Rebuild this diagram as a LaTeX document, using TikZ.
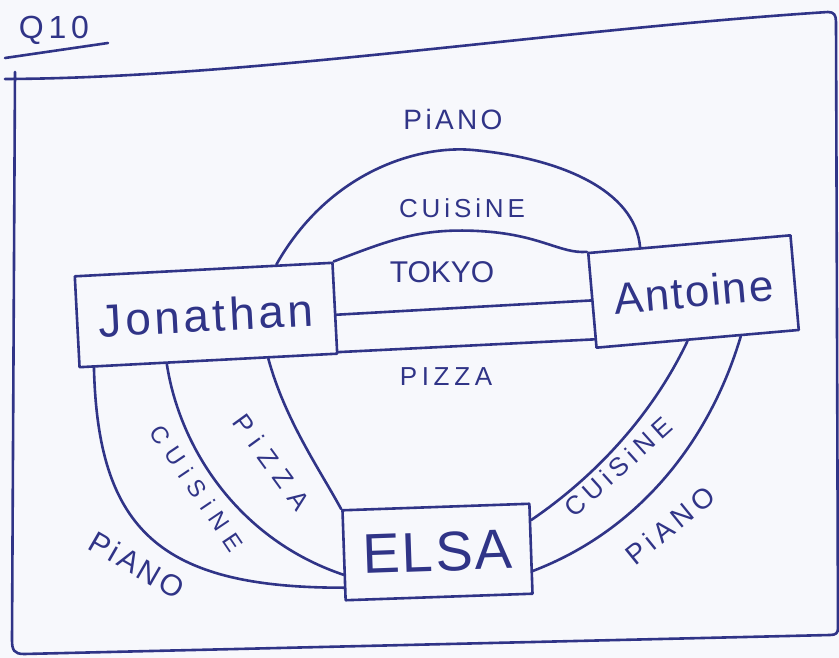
\documentclass[tikz,border=0pt]{standalone}
\usepackage{fontspec}
\setmainfont{Liberation Sans}
\usetikzlibrary{calc}
\definecolor{ink}{RGB}{48,52,135}
\definecolor{paper}{RGB}{247,248,252}
\newcommand\lsp[1]{\addfontfeature{LetterSpace=#1}}
\newcommand\fs[1]{\fontsize{#1}{#1}\selectfont}
\begin{document}
\begin{tikzpicture}[x=1pt,y=-1pt,
  pen/.style={draw=ink,line width=2.6pt,line cap=round,line join=round},
  box/.style={pen,rectangle,inner sep=0pt,text=ink},
  lab/.style={text=ink,inner sep=0pt}]
\fill[paper] (0,0) rectangle (839,658);
\useasboundingbox (0,0) rectangle (839,658);
% frame
\draw[pen] (5,79) .. controls (250,78) and (550,30) .. (828,12)
  .. controls (834,12) and (836,15) .. (836,22) -- (838,628)
  .. controls (838,633) and (836,635) .. (830,635) -- (24,654)
  .. controls (14,654) and (12,650) .. (12,640) -- (15,72);
% title
\node[lab,font=\fs{32}\lsp{15}] (q) at (54,30) {Q10};
\draw[pen] (5,58) -- (108,43);
% persons
\node[box,minimum width=258pt,minimum height=91pt,rotate=3,font=\fs{46}\lsp{8}] (jon) at (206,315) {Jonathan};
\node[box,minimum width=203pt,minimum height=95pt,rotate=5,font=\fs{44}\lsp{4}] (ant) at (693.5,291.5) {Antoine};
\node[box,minimum width=187pt,minimum height=90pt,rotate=2,font=\fs{56}\lsp{4}] (elsa) at (437.5,552) {ELSA};
% anchor points
\coordinate (j1) at ($(jon.north west)!0.78!(jon.north east)$);
\coordinate (a1) at ($(ant.north west)!0.26!(ant.north east)$);
\coordinate (j3) at ($(jon.north east)!0.57!(jon.south east)$);
\coordinate (j4) at ($(jon.north east)!0.97!(jon.south east)$);
\coordinate (a4) at ($(ant.north west)!0.9!(ant.south west)$);
\coordinate (j5) at ($(jon.south west)!0.06!(jon.south east)$);
\coordinate (e5) at ($(elsa.north west)!0.85!(elsa.south west)$);
\coordinate (j6) at ($(jon.south west)!0.34!(jon.south east)$);
\coordinate (e6) at ($(elsa.north west)!0.71!(elsa.south west)$);
\coordinate (j7) at ($(jon.south west)!0.73!(jon.south east)$);
\coordinate (a8) at ($(ant.south west)!0.45!(ant.south east)$);
\coordinate (e8) at ($(elsa.north east)!0.19!(elsa.south east)$);
\coordinate (a9) at ($(ant.south west)!0.71!(ant.south east)$);
\coordinate (e9) at ($(elsa.north east)!0.74!(elsa.south east)$);
% connectors
\draw[pen] (j1) .. controls (330,170) and (420,145) .. (473,150)
  .. controls (560,158) and (635,190) .. (a1);
\draw[pen] (jon.north east) .. controls (390,240) and (420,228) .. (478,231)
  .. controls (540,234) and (560,254) .. (ant.north west);
\draw[pen] (j3) -- (ant.west);
\draw[pen] (j4) -- (a4);
\draw[pen] (j5) .. controls (98,530) and (160,588) .. (e5);
\draw[pen] (j6) .. controls (180,450) and (240,540) .. (e6);
\draw[pen] (j7) .. controls (285,420) and (320,470) .. (elsa.north west);
\draw[pen] (a8) .. controls (650,420) and (590,480) .. (e8);
\draw[pen] (a9) .. controls (710,440) and (640,530) .. (e9);
% labels
\node[lab,font=\fs{28}\lsp{12}] (l1) at (453,119) {PiANO};
\node[lab,font=\fs{26}\lsp{15}] (l2) at (462,208) {CUiSiNE};
\node[lab,font=\fs{30}] (l3) at (442,272) {TOKYO};
\node[lab,font=\fs{26}\lsp{18}] (l4) at (446,377) {PIZZA};
\node[lab,font=\fs{24}\lsp{36},rotate=-56] (l5) at (197,488) {CUiSiNE};
\node[lab,font=\fs{26}\lsp{37},rotate=-54] (l6) at (272,462) {PiZZA};
\node[lab,font=\fs{30}\lsp{10},rotate=-30] (l7) at (137,565) {PiANO};
\node[lab,font=\fs{26}\lsp{20},rotate=42] (l8) at (618,467) {CUiSiNE};
\node[lab,font=\fs{28}\lsp{18},rotate=39] (l9) at (670,525) {PiANO};
\end{tikzpicture}
\end{document}
